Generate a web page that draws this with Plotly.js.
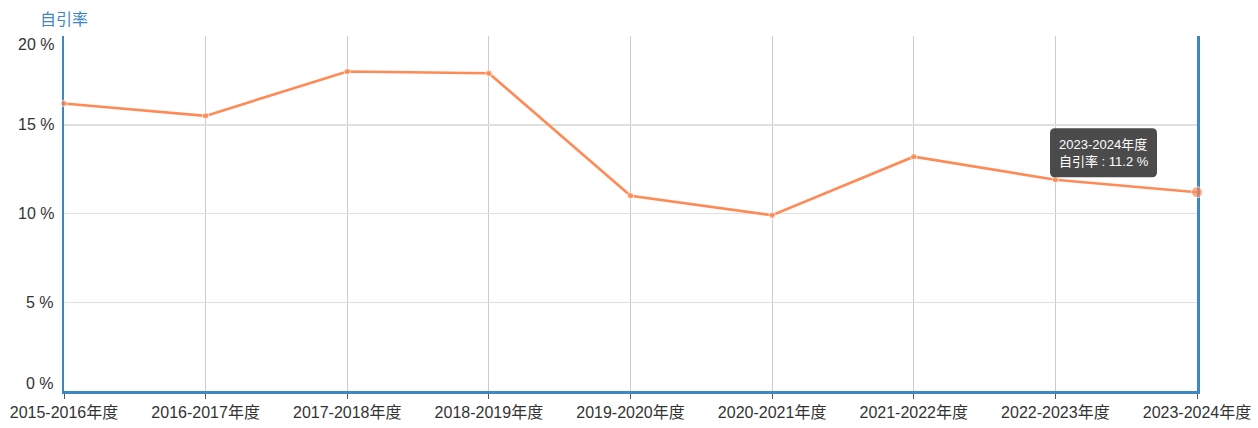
<!DOCTYPE html>
<html>
<head>
<meta charset="utf-8">
<script src="https://cdn.plot.ly/plotly-3.0.1.min.js"></script>
<style>html,body{margin:0;padding:0;background:#fff;}#chart{width:1258px;height:428px;}</style>
</head>
<body>
<div id="chart"></div>
<script>
const categories = ["2015-2016年度","2016-2017年度","2017-2018年度","2018-2019年度","2019-2020年度","2020-2021年度","2021-2022年度","2022-2023年度","2023-2024年度"];
const selfCiteRate = [16.2, 15.5, 18.0, 17.9, 11.0, 9.9, 13.2, 11.9, 11.2];
const yTickValues = [0, 5, 10, 15, 20];
const yTickLabels = ["0 %", "5 %", "10 %", "15 %", "20 %"];
const seriesName = "自引率";

const FONT = "Liberation Sans, Arial, Noto Sans CJK SC, sans-serif";
const BLUE = "#3f86c4";
const LINE = "#ff8a55";

const last = categories.length - 1;
const markerSizes = selfCiteRate.map((v, i) => i === last ? 11 : 6.5);

const trace = {
  x: categories,
  y: selfCiteRate,
  type: "scatter",
  mode: "lines+markers",
  line: {color: LINE, width: 2.6},
  marker: {color: LINE, size: markerSizes},
  cliponaxis: false,
  hoverinfo: "skip"
};

const annotations = yTickValues.map((v, i) => ({
  xref: "paper", yref: "y", x: 0, y: v,
  text: yTickLabels[i], showarrow: false,
  xanchor: "right", yanchor: "middle", xshift: -8,
  yshift: i === 0 ? 8 : (i === yTickValues.length - 1 ? -8 : 0),
  font: {family: FONT, size: 16, color: "#333"}
}));
annotations.push({
  xref: "paper", yref: "paper", x: 0, y: 1, yshift: 17,
  xanchor: "center", yanchor: "middle", showarrow: false,
  text: seriesName, font: {family: FONT, size: 16, color: BLUE}
});
annotations.push({
  xref: "x", yref: "y", x: categories[last], y: selfCiteRate[last],
  xanchor: "center", yanchor: "middle", xshift: -93.5, yshift: 39.5,
  showarrow: false, align: "left",
  text: categories[last] + "<br>" + seriesName + " : " + selfCiteRate[last] + " %",
  font: {family: FONT, size: 13, color: "#fff"}
});

// rounded tooltip box (pixel-sized, anchored at the last point)
const bx0 = -147, bx1 = -40, by0 = 15, by1 = 64, r = 5;
const tipPath = `M ${bx0 + r} ${by0} L ${bx1 - r} ${by0} Q ${bx1} ${by0} ${bx1} ${by0 + r} L ${bx1} ${by1 - r} Q ${bx1} ${by1} ${bx1 - r} ${by1} L ${bx0 + r} ${by1} Q ${bx0} ${by1} ${bx0} ${by1 - r} L ${bx0} ${by0 + r} Q ${bx0} ${by0} ${bx0 + r} ${by0} Z`;

const layout = {
  width: 1258, height: 428,
  margin: {l: 64, r: 61, t: 36, b: 37},
  paper_bgcolor: "#fff", plot_bgcolor: "#fff",
  showlegend: false,
  font: {family: FONT, size: 16, color: "#333"},
  xaxis: {
    type: "category", range: [0, last],
    showgrid: true, gridcolor: "#cccccc", gridwidth: 1,
    showline: true, linecolor: BLUE, linewidth: 2.5, mirror: false,
    ticks: "outside", ticklen: 5, tickcolor: "#555", tickwidth: 1,
    tickfont: {family: FONT, size: 16, color: "#333"},
    zeroline: false, fixedrange: true, layer: "below traces"
  },
  yaxis: {
    range: [0, 20], tickvals: yTickValues, showticklabels: false,
    showgrid: true, gridcolor: "#e0e0e0", gridwidth: 1.5,
    showline: true, linecolor: BLUE, linewidth: 2.5, mirror: true,
    zeroline: false, ticks: "", fixedrange: true, layer: "below traces"
  },
  shapes: [{
    type: "path", layer: "above",
    xref: "x", yref: "y", xsizemode: "pixel", ysizemode: "pixel",
    xanchor: last, yanchor: selfCiteRate[last],
    path: tipPath,
    fillcolor: "rgba(60,60,60,0.92)", line: {width: 0}
  }],
  annotations: annotations
};

Plotly.newPlot("chart", [trace], layout, {displayModeBar: false, staticPlot: true});
</script>
</body>
</html>
